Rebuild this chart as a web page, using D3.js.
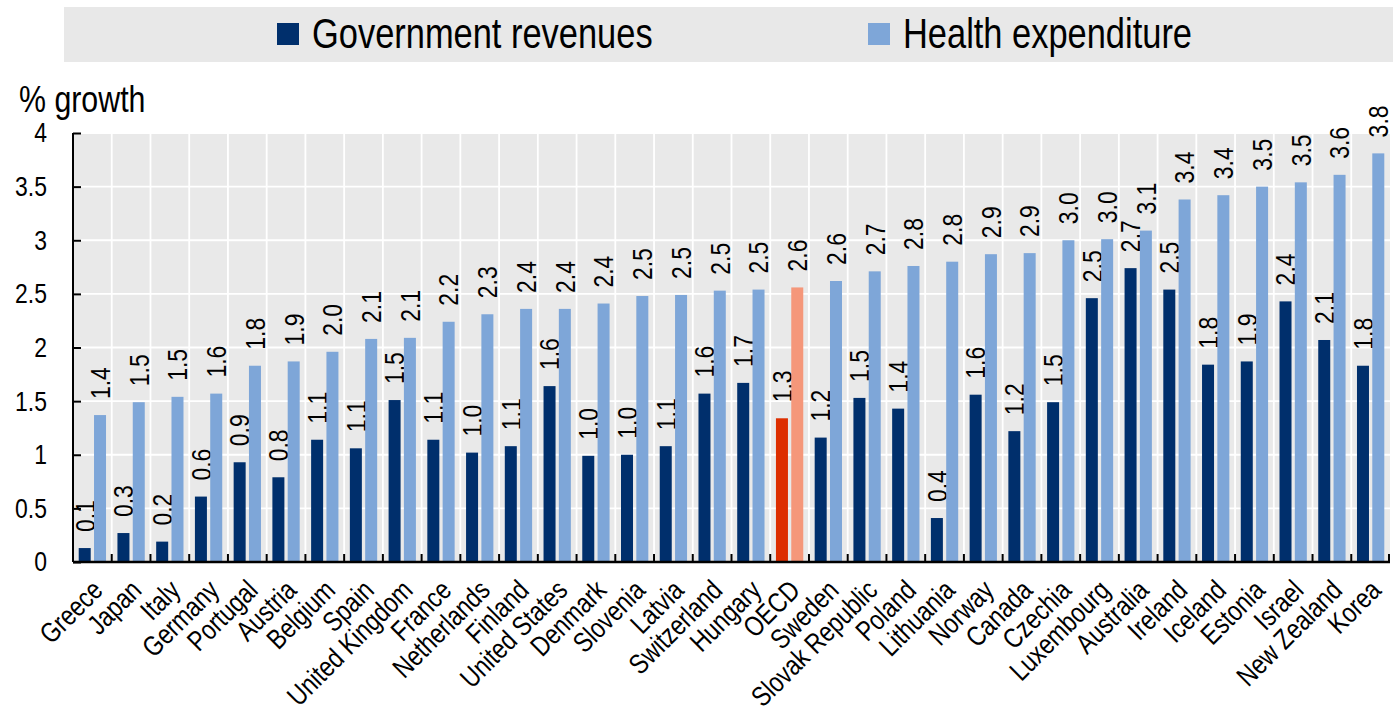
<!DOCTYPE html>
<html>
<head>
<meta charset="utf-8">
<script src="https://cdn.jsdelivr.net/npm/d3@7"></script>
<style>
  html, body { margin: 0; padding: 0; background: #fff; }
  svg text { font-family: "Liberation Sans", Arial, sans-serif; fill: #000; }
</style>
</head>
<body>
<div id="chart"></div>
<script>
// categories and values
var countries = ["Greece", "Japan", "Italy", "Germany", "Portugal", "Austria", "Belgium", "Spain",
    "United Kingdom", "France", "Netherlands", "Finland", "United States", "Denmark", "Slovenia",
    "Latvia", "Switzerland", "Hungary", "OECD", "Sweden", "Slovak Republic", "Poland", "Lithuania",
    "Norway", "Canada", "Czechia", "Luxembourg", "Australia", "Ireland", "Iceland", "Estonia",
    "Israel", "New Zealand", "Korea"];
var govRevenues = [0.13, 0.27, 0.19, 0.61, 0.93, 0.79, 1.14, 1.06, 1.51, 1.14, 1.02, 1.08, 1.64, 0.99,
    1.00, 1.08, 1.57, 1.67, 1.34, 1.16, 1.53, 1.43, 0.41, 1.56, 1.22, 1.49, 2.46, 2.74, 2.54, 1.84,
    1.87, 2.43, 2.07, 1.83];
var healthExpenditure = [1.37, 1.49, 1.54, 1.57, 1.83, 1.87, 1.96, 2.08, 2.09, 2.24, 2.31, 2.36, 2.36,
    2.41, 2.48, 2.49, 2.53, 2.54, 2.56, 2.62, 2.71, 2.76, 2.80, 2.87, 2.88, 3.00, 3.01, 3.09, 3.38,
    3.42, 3.50, 3.54, 3.61, 3.81];
var seriesNames = ["Government revenues", "Health expenditure"];
var yTicks = [0, 0.5, 1, 1.5, 2, 2.5, 3, 3.5, 4];
var highlight = "OECD";

(function () {
    var W = 1396, H = 714;
    var mLeft = 73, mRight = 1390, mTop = 133, mBottom = 562;
    var narrow = " scale(0.82,1)";   // no narrow font installed, squeeze regular one

    var colors = { gov: "#002f6c", health: "#7ea6d8", govHi: "#dd2e00", healthHi: "#f5977a" };

    var svg = d3.select("#chart").append("svg")
        .attr("width", W)
        .attr("height", H);

    // legend box
    svg.append("rect")
        .attr("x", 64).attr("y", 7)
        .attr("width", 1329).attr("height", 55)
        .attr("fill", "#e8e8e8");

    var legendItems = [
        { name: seriesNames[0], color: colors.gov, x: 277 },
        { name: seriesNames[1], color: colors.health, x: 868 }
    ];
    legendItems.forEach(function (d) {
        svg.append("rect")
            .attr("x", d.x).attr("y", 23)
            .attr("width", 22).attr("height", 22)
            .attr("fill", d.color);
        svg.append("text")
            .attr("transform", "translate(" + (d.x + 35) + ",48)" + narrow)
            .style("font-size", "42px")
            .text(d.name);
    });

    // scales
    var x = d3.scaleBand()
        .domain(countries)
        .range([mLeft, mRight]);

    var xs = d3.scaleBand()
        .domain(["gov", "health"])
        .range([0, x.bandwidth()])
        .paddingInner(0.216)
        .paddingOuter(0.373);

    var y = d3.scaleLinear()
        .domain([0, 4])
        .range([mBottom, mTop]);

    // plot background
    svg.append("rect")
        .attr("x", mLeft).attr("y", mTop)
        .attr("width", mRight - mLeft).attr("height", mBottom - mTop)
        .attr("fill", "#e9e9e9");

    // horizontal grid
    svg.append("g")
        .selectAll("line")
        .data(yTicks)
        .enter().append("line")
        .attr("x1", mLeft).attr("x2", mRight)
        .attr("y1", function (d) { return y(d); })
        .attr("y2", function (d) { return y(d); })
        .attr("stroke", "#fff")
        .attr("stroke-width", 1.8);

    // vertical grid at band edges
    svg.append("g")
        .selectAll("line")
        .data(countries.slice(1))
        .enter().append("line")
        .attr("x1", function (d) { return x(d); })
        .attr("x2", function (d) { return x(d); })
        .attr("y1", mTop).attr("y2", mBottom)
        .attr("stroke", "#fff")
        .attr("stroke-width", 1.8);

    var rows = countries.map(function (c, i) {
        return { country: c, gov: govRevenues[i], health: healthExpenditure[i] };
    });

    var groups = svg.append("g")
        .selectAll("g")
        .data(rows)
        .enter().append("g")
        .attr("transform", function (d) { return "translate(" + x(d.country) + ",0)"; });

    ["gov", "health"].forEach(function (key) {
        groups.append("rect")
            .attr("x", xs(key))
            .attr("width", xs.bandwidth())
            .attr("y", function (d) { return y(d[key]); })
            .attr("height", function (d) { return y(0) - y(d[key]); })
            .attr("fill", function (d) {
                if (d.country === highlight) return key === "gov" ? colors.govHi : colors.healthHi;
                return colors[key];
            });

        // value labels, rotated
        groups.append("text")
            .attr("transform", function (d) {
                return "translate(" + (xs(key) + xs.bandwidth() / 2) + "," + (y(d[key]) - 16) + ") rotate(-90)" + narrow;
            })
            .attr("dy", "0.35em")
            .style("font-size", "28px")
            .text(function (d) { return d[key].toFixed(1); });
    });

    // y axis
    var yAxis = svg.append("g")
        .attr("transform", "translate(" + mLeft + ",0)")
        .call(d3.axisLeft(y).tickValues(yTicks).tickSize(-8).tickPadding(26)
            .tickFormat(function (d) { return String(d); }));
    yAxis.select(".domain").attr("stroke", "#000").attr("stroke-width", 2)
        .attr("d", "M0," + mTop + "V" + mBottom);
    yAxis.selectAll(".tick line").attr("stroke", "#000").attr("stroke-width", 2);
    yAxis.selectAll(".tick text")
        .attr("x", 0)
        .attr("transform", "translate(-26,0)" + narrow)
        .attr("fill", null)
        .style("font-size", "28px");
    yAxis.attr("font-family", null).attr("font-size", null);

    // x axis line and ticks at band edges
    svg.append("line")
        .attr("x1", mLeft).attr("x2", mRight)
        .attr("y1", mBottom).attr("y2", mBottom)
        .attr("stroke", "#000").attr("stroke-width", 2.5);

    svg.append("g")
        .selectAll("line")
        .data(countries.slice(1).concat(["__end"]))
        .enter().append("line")
        .attr("x1", function (d) { return d === "__end" ? mRight - 1 : x(d); })
        .attr("x2", function (d) { return d === "__end" ? mRight - 1 : x(d); })
        .attr("y1", mBottom).attr("y2", mBottom - 8)
        .attr("stroke", "#000").attr("stroke-width", 2);

    // category labels
    svg.append("g")
        .selectAll("text")
        .data(countries)
        .enter().append("text")
        .attr("transform", function (d) {
            return "translate(" + (x(d) + x.bandwidth() / 2 + 12) + ",592) rotate(-45)" + narrow;
        })
        .attr("text-anchor", "end")
        .style("font-size", "28px")
        .text(function (d) { return d; });

    // y axis title
    svg.append("text")
        .attr("transform", "translate(19,112)" + narrow)
        .style("font-size", "37px")
        .text("% growth");
})();
</script>
</body>
</html>
